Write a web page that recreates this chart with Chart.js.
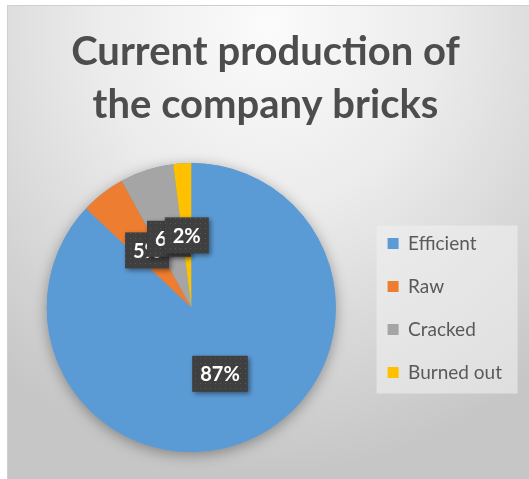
<!DOCTYPE html>
<html>
<head>
<meta charset="utf-8">
<script src="https://cdn.jsdelivr.net/npm/chart.js@4"></script>
<style>
  html, body { margin: 0; padding: 0; background: #ffffff; }
  #frame {
    position: absolute; left: 7px; top: 5px; width: 521px; height: 473px;
    border-left: 1px solid #cfcfcf; border-top: 1px solid #cfcfcf;
    background: radial-gradient(ellipse 80% 95% at 50% 4%, #fbfbfb 0%, #ececec 40%, #d6d6d6 75%, #c6c6c6 100%);
  }
  #chart { display: block; }
</style>
</head>
<body>
<div id="frame"><canvas id="chart" width="521" height="473"></canvas></div>
<script>
// Chart data
const categories = ['Efficient', 'Raw', 'Cracked', 'Burned out'];
const shares = [87, 5, 6, 2];
const sliceColors = ['#5b9bd5', '#ed7d31', '#a5a5a5', '#ffc000'];
const titleLines = ['Current production of', 'the company bricks'];

// dotted dark fill for the data label boxes
function makeDotPattern(ctx) {
    const c = document.createElement('canvas');
    c.width = 5; c.height = 5;
    const p = c.getContext('2d');
    p.fillStyle = '#3f3f3f';
    p.fillRect(0, 0, 5, 5);
    p.fillStyle = '#585858';
    p.fillRect(2, 2, 1, 1);
    return ctx.createPattern(c, 'repeat');
}

// light panel behind the legend
const legendPanel = {
    id: 'legendPanel',
    beforeDraw(chart) {
        const boxes = chart.legend && chart.legend.legendHitBoxes;
        if (!boxes || !boxes.length) return;
        const first = boxes[0], last = boxes[boxes.length - 1];
        const x = first.left - 11;
        const y = first.top + first.height / 2 - 18;
        const yEnd = last.top + last.height / 2 + 21;
        const ctx = chart.ctx;
        ctx.save();
        ctx.fillStyle = 'rgba(240,240,240,0.6)';
        ctx.fillRect(x, y, 141, yEnd - y);
        ctx.restore();
    }
};

// soft shadow under the pie, drawn before the slices
const pieShadow = {
    id: 'pieShadow',
    beforeDatasetsDraw(chart) {
        const arc = chart.getDatasetMeta(0).data[0];
        if (!arc) return;
        const ctx = chart.ctx;
        ctx.save();
        ctx.shadowColor = 'rgba(0,0,0,0.35)';
        ctx.shadowBlur = 14;
        ctx.shadowOffsetY = 3;
        ctx.fillStyle = '#5b9bd5';
        ctx.beginPath();
        ctx.arc(arc.x, arc.y, arc.outerRadius, 0, Math.PI * 2);
        ctx.fill();
        ctx.restore();
    }
};

// percentage callouts in dark boxes
const boxLabels = {
    id: 'boxLabels',
    afterDatasetsDraw(chart) {
        const ctx = chart.ctx;
        const pattern = makeDotPattern(ctx);
        const meta = chart.getDatasetMeta(0);
        ctx.save();
        ctx.font = 'bold 20px Lato';
        ctx.textAlign = 'center';
        ctx.textBaseline = 'middle';
        meta.data.forEach((arc, i) => {
            const pos = arc.tooltipPosition();
            const text = shares[i] + '%';
            const w = ctx.measureText(text).width + 16;
            const h = 36;
            ctx.save();
            ctx.shadowColor = 'rgba(0,0,0,0.45)';
            ctx.shadowBlur = 5;
            ctx.shadowOffsetX = 2;
            ctx.shadowOffsetY = 2;
            ctx.fillStyle = pattern;
            ctx.fillRect(pos.x - w / 2, pos.y - h / 2, w, h);
            ctx.restore();
            ctx.fillStyle = '#ffffff';
            ctx.fillText(text, pos.x, pos.y + 1);
        });
        ctx.restore();
    }
};

const ctx = document.getElementById('chart').getContext('2d');
const productionChart = new Chart(ctx, {
    type: 'pie',
    data: {
        labels: categories,
        datasets: [{
            data: shares,
            backgroundColor: sliceColors,
            borderWidth: 0
        }]
    },
    options: {
        responsive: false,
        animation: false,
        layout: { padding: { left: 11, right: 17, top: 0, bottom: 27 } },
        plugins: {
            title: {
                display: true,
                text: titleLines,
                color: '#4d4d4d',
                font: { family: 'Lato', size: 40, weight: 'bold', lineHeight: '53px' },
                padding: { top: 20, bottom: 31 }
            },
            legend: {
                position: 'right',
                title: {
                    // empty spacer that pushes the items down to the pie's middle
                    display: true,
                    text: ' ',
                    font: { size: 10, lineHeight: 1 },
                    padding: { top: 148, bottom: 0 }
                },
                labels: {
                    boxWidth: 11,
                    boxHeight: 11,
                    padding: 24,
                    color: '#595959',
                    font: { family: 'Lato', size: 19 }
                }
            },
            tooltip: { enabled: false }
        }
    },
    plugins: [legendPanel, pieShadow, boxLabels]
});
</script>
</body>
</html>
